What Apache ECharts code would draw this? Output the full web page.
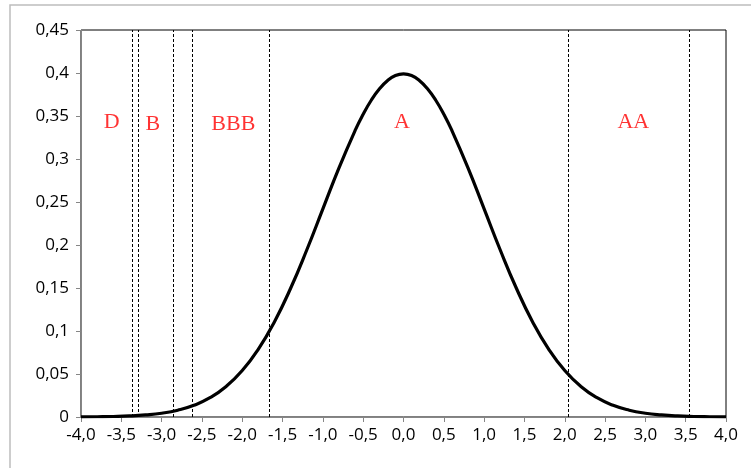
<!DOCTYPE html>
<html>
<head>
<meta charset="utf-8">
<script src="https://cdn.jsdelivr.net/npm/echarts@6/dist/echarts.min.js"></script>
<style>
  html, body { margin: 0; padding: 0; background: #fff; }
  #chart { width: 751px; height: 468px; }
</style>
</head>
<body>
<div id="chart"></div>
<script>
// curve (x, density)
const curveX = [-4.0, -3.8, -3.6, -3.4, -3.2, -3.0, -2.8, -2.6, -2.4, -2.2, -2.0, -1.8, -1.6, -1.4, -1.2, -1.0, -0.8, -0.6, -0.5, -0.4, -0.3, -0.2, -0.1,
                0.0, 0.1, 0.2, 0.3, 0.4, 0.5, 0.6, 0.8, 1.0, 1.2, 1.4, 1.6, 1.8, 2.0, 2.2, 2.4, 2.6, 2.8, 3.0, 3.2, 3.4, 3.6, 3.8, 4.0];
const curveY = [0.0001, 0.0003, 0.0006, 0.0012, 0.0024, 0.0044, 0.0079, 0.0136, 0.0224, 0.0355, 0.0540, 0.0790, 0.1109, 0.1497, 0.1942, 0.2420, 0.2897, 0.3332, 0.3521, 0.3683, 0.3814, 0.3910, 0.3970,
                0.3989, 0.3970, 0.3910, 0.3814, 0.3683, 0.3521, 0.3332, 0.2897, 0.2420, 0.1942, 0.1497, 0.1109, 0.0790, 0.0540, 0.0355, 0.0224, 0.0136, 0.0079, 0.0044, 0.0024, 0.0012, 0.0006, 0.0003, 0.0001];

// dashed cut-off lines
const cutoffs = [-3.37, -3.29, -2.86, -2.62, -1.66, 2.045, 3.54];

// rating labels
const ratingNames = ['D', 'B', 'BBB', 'A', 'AA'];
const ratingX = [-3.62, -3.11, -2.11, -0.02, 2.85];
const ratingY = [0.343, 0.340, 0.341, 0.343, 0.343];

const chart = echarts.init(document.getElementById('chart'));

const tickFont = { color: '#000', fontSize: 17, fontFamily: 'Open Sans' };

chart.setOption({
    animation: false,
    graphic: [{
        type: 'rect',
        shape: { x: 10, y: 5, width: 800, height: 520 },
        style: { fill: 'none', stroke: '#bdbdbd', lineWidth: 1.5 },
        z: -10
    }],
    grid: {
        left: 81, top: 30, right: 25, bottom: 51,
        show: true, borderColor: '#000', borderWidth: 1
    },
    xAxis: {
        type: 'value', min: -4, max: 4, interval: 0.5,
        axisLine: { show: true, onZero: false, lineStyle: { color: '#868686', width: 1 } },
        axisTick: { show: true, length: 5, lineStyle: { color: '#868686' } },
        splitLine: { show: false },
        axisLabel: Object.assign({ margin: 10, formatter: v => v.toFixed(1).replace('.', ',') }, tickFont)
    },
    yAxis: {
        type: 'value', min: 0, max: 0.45, interval: 0.05,
        axisLine: { show: true, onZero: false, lineStyle: { color: '#868686', width: 1 } },
        axisTick: { show: true, length: 5, lineStyle: { color: '#868686' } },
        splitLine: { show: false },
        axisLabel: Object.assign({ margin: 12, formatter: v => String(+v.toFixed(2)).replace('.', ',') }, tickFont)
    },
    series: [
        {
            type: 'line',
            data: curveX.map((x, i) => [x, curveY[i]]),
            smooth: true,
            symbol: 'none',
            lineStyle: { color: '#000', width: 3.2 },
            markLine: {
                silent: true,
                symbol: 'none',
                label: { show: false },
                lineStyle: { color: '#000', type: [3, 2], width: 1 },
                data: cutoffs.map(c => ({ xAxis: c }))
            }
        },
        {
            type: 'scatter',
            symbolSize: 0,
            data: ratingNames.map((n, i) => ({ name: n, value: [ratingX[i], ratingY[i]] })),
            label: {
                show: true, position: 'inside',
                formatter: p => p.name,
                color: '#ff0000', fontSize: 22, fontFamily: 'Liberation Serif'
            }
        }
    ]
});
</script>
</body>
</html>
